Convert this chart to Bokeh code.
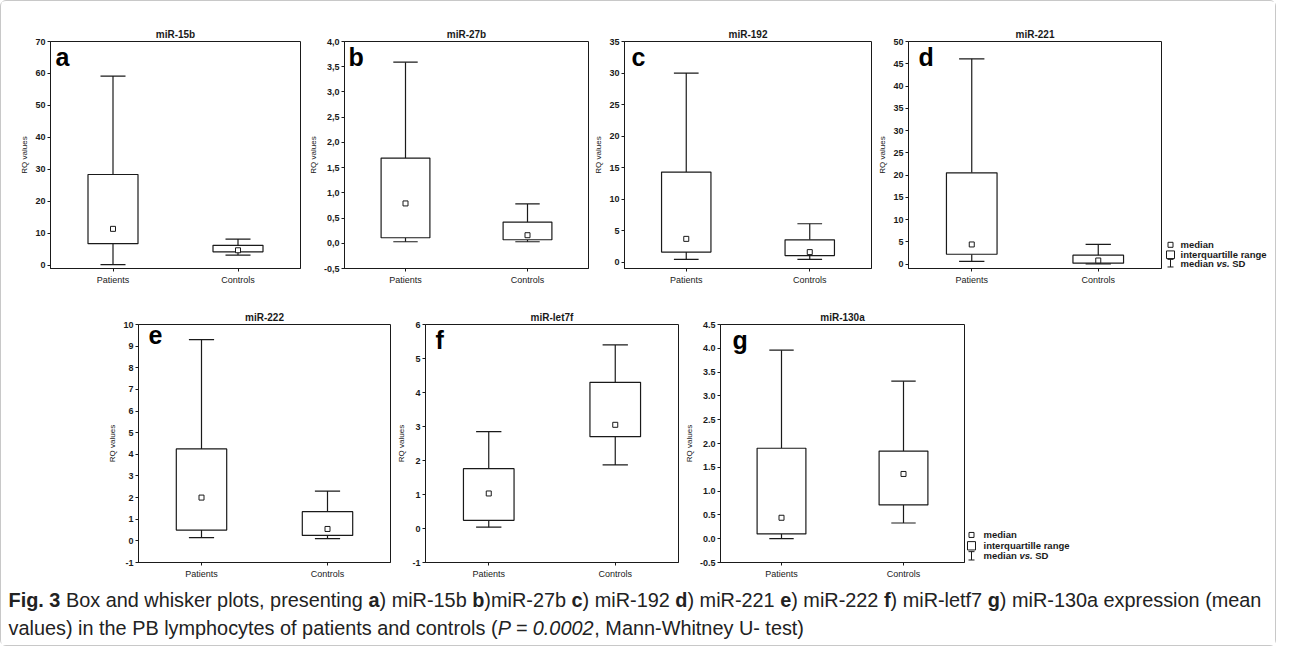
import glob
import struct
import numpy as np
from bokeh.plotting import figure
from bokeh.models import (Range1d, FixedTicker, CustomJSTickFormatter, Label,
                          ColumnDataSource, Spacer)
from bokeh.layouts import row, column
from bokeh.embed import file_html
from bokeh.resources import INLINE
from bokeh.core.properties import value, field

# ---------------- data ----------------
groups = ["Patients", "Controls"]
panel_titles = ["miR-15b", "miR-27b", "miR-192", "miR-221", "miR-222", "miR-let7f", "miR-130a"]
panel_letters = ["a", "b", "c", "d", "e", "f", "g"]

# each entry: [Patients, Controls]
whisker_high = [[59.2, 8.2], [3.59, 0.78], [30.0, 6.1], [46.1, 4.4], [9.3, 2.3], [2.85, 5.4], [3.96, 3.31]]
upper_quartile = [[28.4, 6.25], [1.69, 0.42], [14.3, 3.55], [20.5, 2.0], [4.25, 1.35], [1.76, 4.3], [1.9, 1.84]]
medians = [[11.4, 4.7], [0.79, 0.16], [3.7, 1.6], [4.4, 0.8], [2.0, 0.55], [1.03, 3.05], [0.44, 1.36]]
lower_quartile = [[6.75, 4.2], [0.11, 0.07], [1.6, 1.05], [2.2, 0.2], [0.5, 0.25], [0.24, 2.7], [0.1, 0.71]]
whisker_low = [[0.2, 3.2], [0.03, 0.03], [0.45, 0.45], [0.6, 0.05], [0.15, 0.1], [0.04, 1.87], [0.0, 0.33]]

y_ticks = [
    [0, 10, 20, 30, 40, 50, 60, 70],
    [-0.5, 0.0, 0.5, 1.0, 1.5, 2.0, 2.5, 3.0, 3.5, 4.0],
    [0, 5, 10, 15, 20, 25, 30, 35],
    [0, 5, 10, 15, 20, 25, 30, 35, 40, 45, 50],
    [-1, 0, 1, 2, 3, 4, 5, 6, 7, 8, 9, 10],
    [-1, 0, 1, 2, 3, 4, 5, 6],
    [-0.5, 0.0, 0.5, 1.0, 1.5, 2.0, 2.5, 3.0, 3.5, 4.0, 4.5],
]
y_limits = [(-1, 70), (-0.5, 4.0), (-1, 35), (-1, 50), (-1, 10), (-1, 6), (-0.5, 4.5)]
tick_formats = ["int", "comma", "int", "int", "int", "int", "dot"]
y_label = "RQ values"

legend_labels = ["median", "interquartille range", "median", "vs.", "SD"]

caption_line1 = [
    ("Fig. 3", "bold"), (" Box and whisker plots, presenting ", "normal"),
    ("a", "bold"), (") miR-15b ", "normal"), ("b", "bold"), (")miR-27b ", "normal"),
    ("c", "bold"), (") miR-192 ", "normal"), ("d", "bold"), (") miR-221 ", "normal"),
    ("e", "bold"), (") miR-222 ", "normal"), ("f", "bold"), (") miR-letf7 ", "normal"),
    ("g", "bold"), (") miR-130a expression (mean", "normal"),
]
caption_line2 = [
    ("values) in the PB lymphocytes of patients and controls (", "normal"),
    ("P = 0.0002", "italic"), (", Mann-Whitney U- test)", "normal"),
]

# ---------------- styling ----------------
FONT = "Liberation Sans"
INK = "#1a1a1a"


# ---------------- simple font metrics (for placing mixed-style text) ----------------
def find_font(name):
    for root in ("/usr/share/fonts", "/usr/local/share/fonts", "/usr/share/fonts/truetype"):
        hits = glob.glob(root + "/**/" + name, recursive=True)
        if hits:
            return hits[0]
    return None


def load_width_fn(path, fallback):
    try:
        with open(path, "rb") as fh:
            data = fh.read()

        def u16(o):
            return struct.unpack(">H", data[o:o + 2])[0]

        def s16(o):
            return struct.unpack(">h", data[o:o + 2])[0]

        def u32(o):
            return struct.unpack(">I", data[o:o + 4])[0]

        tabs = {}
        for i in range(u16(4)):
            rec = 12 + 16 * i
            tabs[data[rec:rec + 4].decode("latin1")] = u32(rec + 8)
        upem = u16(tabs["head"] + 18)
        nhm = u16(tabs["hhea"] + 34)
        hm = tabs["hmtx"]
        adv = [u16(hm + 4 * i) for i in range(nhm)]
        cm = tabs["cmap"]
        sub = None
        for i in range(u16(cm + 2)):
            pid = u16(cm + 4 + 8 * i)
            off = u32(cm + 8 + 8 * i)
            if pid in (0, 3) and u16(cm + off) == 4:
                sub = cm + off
                break
        segx2 = u16(sub + 6)
        ends = sub + 14
        starts = ends + segx2 + 2
        deltas = starts + segx2
        ros = deltas + segx2
        nseg = segx2 // 2

        def gid(c):
            for i in range(nseg):
                if c <= u16(ends + 2 * i):
                    s = u16(starts + 2 * i)
                    if c < s:
                        return 0
                    d = s16(deltas + 2 * i)
                    ro = u16(ros + 2 * i)
                    if ro == 0:
                        return (c + d) & 0xFFFF
                    g = u16(ros + 2 * i + ro + 2 * (c - s))
                    return (g + d) & 0xFFFF if g else 0
            return 0

        cache = {}

        def width(text, size):
            tot = 0
            for ch in text:
                if ch not in cache:
                    cache[ch] = adv[min(gid(ord(ch)), nhm - 1)]
                tot += cache[ch]
            return tot / upem * size

        width("abc", 10)
        return width
    except Exception:
        return fallback


def approx(factor):
    return lambda text, size: len(text) * size * factor


def metrics_for(prefix):
    files = {"normal": "Regular", "bold": "Bold", "italic": "Italic", "bold italic": "BoldItalic"}
    fb = {"normal": 0.5, "bold": 0.55, "italic": 0.5, "bold italic": 0.55}
    out = {}
    for st, suf in files.items():
        path = find_font(prefix + "-" + suf + ".ttf")
        out[st] = load_width_fn(path, approx(fb[st])) if path else approx(fb[st])
    return out


main_metrics = metrics_for("LiberationSans")
if find_font("LiberationSansNarrow-Regular.ttf"):
    CAP_FONT = "Liberation Sans Narrow"
    cap_metrics = metrics_for("LiberationSansNarrow")
else:
    CAP_FONT = FONT
    cap_metrics = main_metrics


# ---------------- panels ----------------
def style_axis(ax, size="9px"):
    ax.major_label_text_font = FONT
    ax.major_label_text_font_size = size
    ax.major_label_text_font_style = "bold"
    ax.major_label_text_color = INK
    ax.axis_line_color = INK
    ax.major_tick_line_color = INK
    ax.minor_tick_line_color = None


def make_panel(k, width, height, bl, br, bt, bb, letter_dx):
    lo, hi = y_limits[k]
    xpos = np.arange(1, len(groups) + 1, dtype=float)
    p = figure(width=width, height=height, x_range=Range1d(0.5, len(groups) + 0.5),
               y_range=Range1d(lo, hi), output_backend="svg", toolbar_location=None, tools="",
               min_border_left=bl, min_border_right=br, min_border_top=bt, min_border_bottom=bb,
               title=panel_titles[k])
    p.grid.visible = False
    p.outline_line_color = INK
    p.outline_line_width = 1
    p.background_fill_color = "white"
    p.border_fill_color = "white"
    p.title.align = "center"
    p.title.text_font = FONT
    p.title.text_font_size = "10px"
    p.title.text_font_style = "bold"
    p.title.text_color = INK
    p.title.standoff = 3

    xa = p.xaxis[0]
    xa.ticker = FixedTicker(ticks=xpos.tolist())
    xa.formatter = CustomJSTickFormatter(args=dict(labels=groups),
                                         code="return labels[Math.round(tick) - 1] || '';")
    style_axis(xa)
    xa.major_label_text_font_style = "normal"
    xa.major_tick_out = 3
    xa.major_tick_in = 0
    xa.major_label_standoff = 3

    ya = p.yaxis[0]
    ya.ticker = FixedTicker(ticks=[float(t) for t in y_ticks[k]])
    if tick_formats[k] == "comma":
        ya.formatter = CustomJSTickFormatter(code="return tick.toFixed(1).replace('.', ',');")
    elif tick_formats[k] == "dot":
        ya.formatter = CustomJSTickFormatter(code="return tick.toFixed(1);")
    else:
        ya.formatter = CustomJSTickFormatter(code="return tick.toFixed(0);")
    style_axis(ya)
    ya.major_tick_out = 3
    ya.major_tick_in = 0
    ya.major_label_standoff = 2
    ya.axis_label = y_label
    ya.axis_label_text_font = FONT
    ya.axis_label_text_font_size = "8px"
    ya.axis_label_text_font_style = "normal"
    ya.axis_label_text_color = INK
    ya.axis_label_standoff = 3

    src = ColumnDataSource(dict(
        x=xpos, lo=whisker_low[k], q1=lower_quartile[k], med=medians[k],
        q3=upper_quartile[k], hi=whisker_high[k],
        bl=xpos - 0.2, br=xpos + 0.2, cl=xpos - 0.1, cr=xpos + 0.1))
    lw = 1.2
    p.segment(x0="x", y0="q3", x1="x", y1="hi", source=src, line_color=INK, line_width=lw)
    p.segment(x0="x", y0="lo", x1="x", y1="q1", source=src, line_color=INK, line_width=lw)
    p.segment(x0="cl", y0="hi", x1="cr", y1="hi", source=src, line_color=INK, line_width=lw)
    p.segment(x0="cl", y0="lo", x1="cr", y1="lo", source=src, line_color=INK, line_width=lw)
    p.quad(left="bl", right="br", bottom="q1", top="q3", source=src,
           fill_color="white", line_color=INK, line_width=lw)
    p.scatter(x="x", y="med", source=src, marker="square", size=5,
              fill_color="white", line_color=INK, line_width=1)

    p.add_layout(Label(x=0.5, y=hi, x_offset=letter_dx, y_offset=-1, text=panel_letters[k],
                       text_font=FONT, text_font_size="25px", text_font_style="bold",
                       text_color="black", text_baseline="top", text_align="left"))
    return p


def make_legend(width, height, key_x, text_x, rows_y):
    p = figure(width=width, height=height, x_range=Range1d(0, width), y_range=Range1d(height, 0),
               x_axis_type=None, y_axis_type=None, output_backend="svg",
               toolbar_location=None, tools="", min_border=0)
    p.outline_line_color = None
    p.background_fill_color = "white"
    p.border_fill_color = "white"
    y0, y1, y2 = rows_y
    p.scatter(x=[key_x], y=[y0], marker="square", size=5, fill_color="white",
              line_color=INK, line_width=1)
    p.quad(left=[key_x - 4], right=[key_x + 4], top=[y1 - 5], bottom=[y1 + 5],
           fill_color="white", line_color=INK, line_width=1)
    p.segment(x0=[key_x, key_x - 3, key_x - 3], y0=[y2 - 5, y2 - 5, y2 + 5],
              x1=[key_x, key_x + 3, key_x + 3], y1=[y2 + 5, y2 - 5, y2 + 5],
              line_color=INK, line_width=1)
    size = 9.5
    wb = main_metrics["bold"]
    wbi = main_metrics["bold italic"]
    x_vs = text_x + wb(legend_labels[2] + " ", size)
    x_sd = x_vs + wbi(legend_labels[3] + " ", size)
    src = ColumnDataSource(dict(
        x=[text_x, text_x, text_x, x_vs, x_sd],
        y=[y0, y1, y2, y2, y2],
        text=legend_labels,
        style=["bold", "bold", "bold", "bold italic", "bold"]))
    p.text(x="x", y="y", text="text", source=src, text_font=value(FONT),
           text_font_size=value("%gpx" % size), text_font_style=field("style"),
           text_baseline="middle", text_align="left", text_color=INK)
    return p


def make_caption(width, height, x0, line_ys, target_width):
    meas = cap_metrics
    w1 = sum(meas[st](t, 1.0) for t, st in caption_line1)
    size = max(14.0, min(22.0, target_width / w1))
    xs, ys, texts, styles = [], [], [], []
    for segs, yy in ((caption_line1, line_ys[0]), (caption_line2, line_ys[1])):
        x = x0
        for txt, st in segs:
            core = txt.strip(" ")
            lead = len(txt) - len(txt.lstrip(" "))
            if core:
                xs.append(x + meas[st](" " * lead, size))
                ys.append(yy)
                texts.append(core)
                styles.append(st)
            x += meas[st](txt, size)
    p = figure(width=width, height=height, x_range=Range1d(0, width), y_range=Range1d(height, 0),
               x_axis_type=None, y_axis_type=None, output_backend="svg",
               toolbar_location=None, tools="", min_border=0)
    p.outline_line_color = None
    p.background_fill_color = "white"
    p.border_fill_color = "white"
    src = ColumnDataSource(dict(x=xs, y=ys, text=texts, style=styles))
    p.text(x="x", y="y", text="text", source=src, text_font=value(CAP_FONT),
           text_font_size=value("%.2fpx" % size), text_font_style=field("style"),
           text_baseline="middle", text_align="left", text_color="#222222")
    return p


# geometry: width, height, border left/right/top/bottom, letter x offset
geoms = [
    (304, 297, 49, 5, 40, 30, 5),
    (286, 297, 36, 3, 37, 18, 4),
    (284, 297, 32, 4, 37, 18, 7),
    (290, 297, 30, 4, 36, 19, 10),
    (290, 285, 35, 3, 26, 20, 10),
    (288, 285, 32, 3, 25, 18, 10),
    (285, 285, 36, 2, 23, 21, 12),
]
panels = [make_panel(k, *g) for k, g in enumerate(geoms)]

legend1 = make_legend(110, 297, 5, 15, (266, 279, 290))
legend2 = make_legend(130, 285, 5, 17, (252, 265, 277))
caption = make_caption(1274, 62, 7, (16, 44), 1253)

layout = column(
    row(panels[0], panels[1], panels[2], panels[3], legend1),
    row(Spacer(width=102, height=285), panels[4], panels[5], panels[6], legend2),
    caption,
    styles={"border": "1px solid #c8c8c8", "border-radius": "6px", "background-color": "white"},
)

with open("out.html", "w") as f:
    f.write(file_html(layout, INLINE))
